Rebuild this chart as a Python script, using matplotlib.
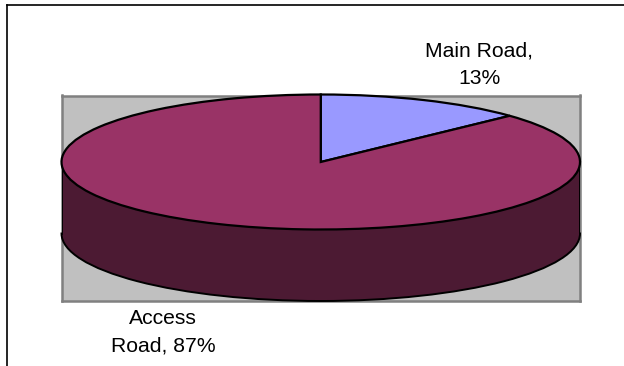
import matplotlib
matplotlib.use('Agg')
import matplotlib.pyplot as plt
from matplotlib.lines import Line2D
from matplotlib.patches import Rectangle

labels = ['Main Road,\n13%', 'Access\nRoad, 87%']
values = [13, 87]
colors = ['#9999FF', '#993366']
side_color = '#4C1A33'

W = 624; H = 366
# plot area and ellipse, in pixels
left = 61.5; right = 580; top = 95.5; bottom = 301
cy = 162; ry = 67.5
depth = 71.5 / ry

plt.rcParams['font.family'] = ['Liberation Sans', 'DejaVu Sans']
fig = plt.figure(figsize=(W / 100, H / 100), dpi=100, facecolor='white')
ax = fig.add_axes([left / W, 1 - bottom / H, (right - left) / W, (bottom - top) / H])

# side wall first: lower half of an ellipse plus a box, then the top of the pie over it
low, _ = ax.pie([1, 1], colors=[side_color, 'none'], center=(0, -depth), radius=1, startangle=180, frame=True,
                wedgeprops=dict(edgecolor='black', linewidth=1.4, clip_on=False, zorder=1.5))
low[1].set_visible(False)
# box reaches a little lower so it hides the flat edge of the half ellipse
ax.add_patch(Rectangle((-1, -depth - 0.025), 2, depth + 0.025, facecolor=side_color, edgecolor='none', zorder=1.7))
ax.vlines([-1, 1], -depth - 0.025, 0, color='black', linewidth=1.4, zorder=1.8)
wedges, _ = ax.pie(values, colors=colors, startangle=90, counterclock=False, radius=1, frame=True,
                   wedgeprops=dict(edgecolor='black', linewidth=1.6, clip_on=False, zorder=3))

ax.set_aspect('auto')
ax.set_xlim(-1, 1)
ax.set_ylim(-(bottom - cy) / ry, (cy - top) / ry)
ax.set_xticks([]); ax.set_yticks([])
ax.set_facecolor('#C0C0C0')
for s in ax.spines.values():
    s.set_color('#808080')
    s.set_linewidth(1.8)
    s.set_zorder(1.2)

# outer chart frame, open on the right and at the bottom
fig.add_artist(Line2D([6.5 / W, 6.5 / W], [0, 1 - 4.5 / H], color='black', linewidth=1.2))
fig.add_artist(Line2D([6.5 / W, 1], [1 - 4.5 / H, 1 - 4.5 / H], color='black', linewidth=1.2))

fig.text(479 / W, 1 - 65 / H, labels[0], ha='center', va='center', fontsize=15.2, linespacing=1.6, color='black')
fig.text(163 / W, 1 - 332 / H, labels[1], ha='center', va='center', fontsize=15.2, linespacing=1.6, color='black')

fig.savefig('out.png', dpi=100)
